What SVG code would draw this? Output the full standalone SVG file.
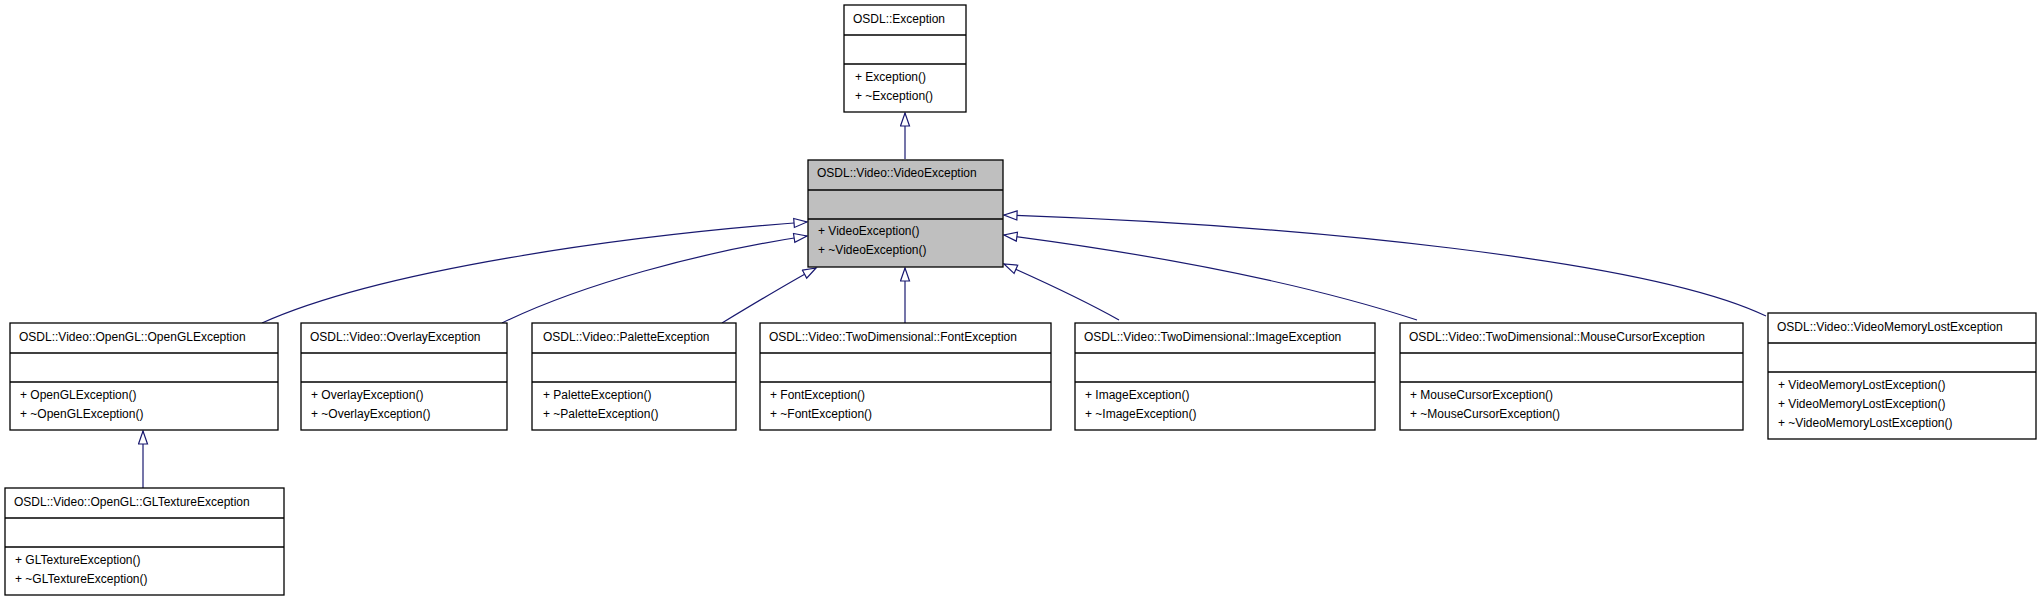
<svg xmlns="http://www.w3.org/2000/svg" width="2040" height="600" viewBox="0 0 2040 600">
<style>
.box{fill:#fff;stroke:#000;stroke-width:1.3}
.hl{fill:#bfbfbf}
.sep{stroke:#000;stroke-width:1.3}
text{font-family:"Liberation Sans",Arial,sans-serif;font-size:12px;fill:#000}
.e{fill:none;stroke:#191970;stroke-width:1.2;marker-end:url(#tri)}
</style>
<defs>
<marker id="tri" markerUnits="userSpaceOnUse" markerWidth="16" markerHeight="12" refX="14" refY="5.5" orient="auto">
<path d="M1,1 L14,5.5 L1,10 z" fill="#fff" stroke="#191970" stroke-width="1.2"/>
</marker>
</defs>
<g id="connectors">
<path class="e" d="M905,159 L905,113"/>
<path class="e" d="M143,488 L143,431"/>
<path class="e" d="M262,323 C380,270 620,236 807,222"/>
<path class="e" d="M502,323 C580,285 700,252 807,236"/>
<path class="e" d="M722,323 C760,300 790,282 816,268"/>
<path class="e" d="M905,323 L905,268"/>
<path class="e" d="M1119,320 C1080,298 1040,280 1004,264"/>
<path class="e" d="M1417,320 C1300,282 1150,254 1004,235"/>
<path class="e" d="M1766,316 C1650,260 1300,225 1004,215"/>
</g>
<g id="Exception">
<rect class="box" x="844" y="5" width="122" height="107"/>
<line class="sep" x1="844" y1="35" x2="966" y2="35"/>
<line class="sep" x1="844" y1="64" x2="966" y2="64"/>
<text x="853" y="23">OSDL::Exception</text>
<text x="855" y="81">+ Exception()</text>
<text x="855" y="100">+ ~Exception()</text>
</g>
<g id="VideoException">
<rect class="box hl" x="808" y="160" width="195" height="107"/>
<line class="sep" x1="808" y1="190" x2="1003" y2="190"/>
<line class="sep" x1="808" y1="219" x2="1003" y2="219"/>
<text x="817" y="177">OSDL::Video::VideoException</text>
<text x="818" y="235">+ VideoException()</text>
<text x="818" y="254">+ ~VideoException()</text>
</g>
<g id="OpenGLException">
<rect class="box" x="10" y="323" width="268" height="107"/>
<line class="sep" x1="10" y1="353" x2="278" y2="353"/>
<line class="sep" x1="10" y1="382" x2="278" y2="382"/>
<text x="19" y="341">OSDL::Video::OpenGL::OpenGLException</text>
<text x="20" y="399">+ OpenGLException()</text>
<text x="20" y="418">+ ~OpenGLException()</text>
</g>
<g id="OverlayException">
<rect class="box" x="301" y="323" width="206" height="107"/>
<line class="sep" x1="301" y1="353" x2="507" y2="353"/>
<line class="sep" x1="301" y1="382" x2="507" y2="382"/>
<text x="310" y="341">OSDL::Video::OverlayException</text>
<text x="311" y="399">+ OverlayException()</text>
<text x="311" y="418">+ ~OverlayException()</text>
</g>
<g id="PaletteException">
<rect class="box" x="532" y="323" width="204" height="107"/>
<line class="sep" x1="532" y1="353" x2="736" y2="353"/>
<line class="sep" x1="532" y1="382" x2="736" y2="382"/>
<text x="543" y="341">OSDL::Video::PaletteException</text>
<text x="543" y="399">+ PaletteException()</text>
<text x="543" y="418">+ ~PaletteException()</text>
</g>
<g id="FontException">
<rect class="box" x="760" y="323" width="291" height="107"/>
<line class="sep" x1="760" y1="353" x2="1051" y2="353"/>
<line class="sep" x1="760" y1="382" x2="1051" y2="382"/>
<text x="769" y="341">OSDL::Video::TwoDimensional::FontException</text>
<text x="770" y="399">+ FontException()</text>
<text x="770" y="418">+ ~FontException()</text>
</g>
<g id="ImageException">
<rect class="box" x="1075" y="323" width="300" height="107"/>
<line class="sep" x1="1075" y1="353" x2="1375" y2="353"/>
<line class="sep" x1="1075" y1="382" x2="1375" y2="382"/>
<text x="1084" y="341">OSDL::Video::TwoDimensional::ImageException</text>
<text x="1085" y="399">+ ImageException()</text>
<text x="1085" y="418">+ ~ImageException()</text>
</g>
<g id="MouseCursorException">
<rect class="box" x="1400" y="323" width="343" height="107"/>
<line class="sep" x1="1400" y1="353" x2="1743" y2="353"/>
<line class="sep" x1="1400" y1="382" x2="1743" y2="382"/>
<text x="1409" y="341">OSDL::Video::TwoDimensional::MouseCursorException</text>
<text x="1410" y="399">+ MouseCursorException()</text>
<text x="1410" y="418">+ ~MouseCursorException()</text>
</g>
<g id="VideoMemoryLostException">
<rect class="box" x="1768" y="313" width="268" height="126"/>
<line class="sep" x1="1768" y1="343" x2="2036" y2="343"/>
<line class="sep" x1="1768" y1="372" x2="2036" y2="372"/>
<text x="1777" y="331">OSDL::Video::VideoMemoryLostException</text>
<text x="1778" y="389">+ VideoMemoryLostException()</text>
<text x="1778" y="408">+ VideoMemoryLostException()</text>
<text x="1778" y="427">+ ~VideoMemoryLostException()</text>
</g>
<g id="GLTextureException">
<rect class="box" x="5" y="488" width="279" height="107"/>
<line class="sep" x1="5" y1="518" x2="284" y2="518"/>
<line class="sep" x1="5" y1="547" x2="284" y2="547"/>
<text x="14" y="506">OSDL::Video::OpenGL::GLTextureException</text>
<text x="15" y="564">+ GLTextureException()</text>
<text x="15" y="583">+ ~GLTextureException()</text>
</g>
</svg>
